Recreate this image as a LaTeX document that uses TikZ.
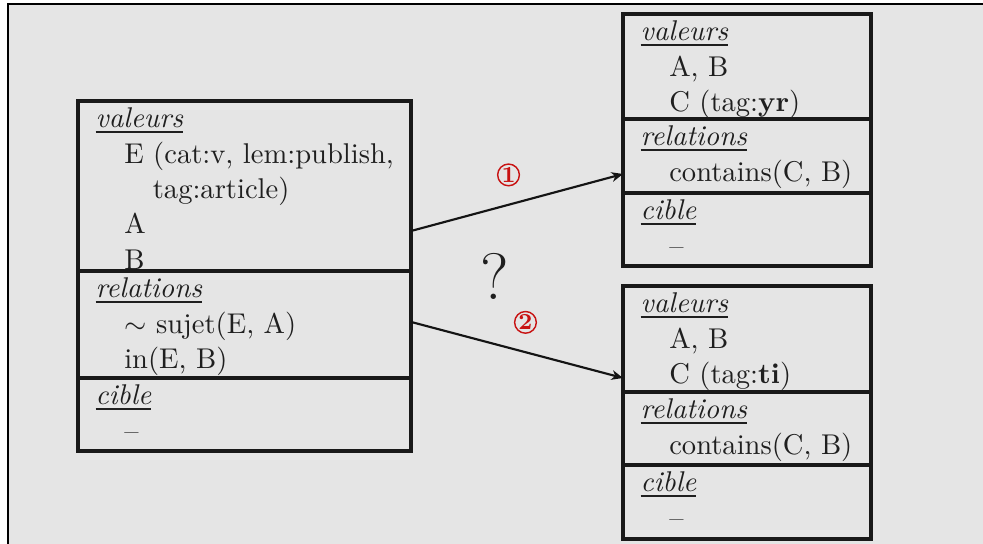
\documentclass[tikz,border=0pt]{standalone}
\usetikzlibrary{positioning,arrows.meta}
\definecolor{panelgray}{RGB}{229,229,229}
\definecolor{markred}{RGB}{200,18,18}
\newcommand{\rubrique}[1]{\underline{\textit{#1}}}

\begin{document}
\begin{tikzpicture}[x=0.35pt,y=-0.35pt,
    sec/.style={draw=black!90,line width=1.1pt,outer sep=0pt,inner sep=0pt,minimum width=#1},
    txt/.style={anchor=north west,inner xsep=6pt,inner ysep=2.2pt,align=left,
      text=black!88,font=\fontsize{10}{12.4}\selectfont},
    link/.style={draw=black!92,line width=0.75pt,-{Stealth[length=4pt,width=3.4pt,inset=1.2pt]}},
    num/.style={circle,draw=markred,text=markred,line width=0.5pt,inner sep=0pt,
      minimum size=7.6pt,font=\footnotesize\bfseries}]
  \useasboundingbox (0,0) rectangle (983,544);
  \fill[white] (0,0) rectangle (983,544);
  \fill[panelgray] (8,4) rectangle (983,544);
  \draw[line width=0.5pt] (8,544) -- (8,4) -- (983,4);
  % left structure
  \node[sec=116.55pt,minimum height=59.5pt,anchor=north west] (lval) at (78,101) {};
  \node[sec=116.55pt,minimum height=37.45pt,below=0pt of lval] (lrel) {};
  \node[sec=116.55pt,minimum height=25.55pt,below=0pt of lrel] (lcib) {};
  \node[txt] (lvaltxt) at (lval.north west) {\rubrique{valeurs}\\
    \quad E (cat:v, lem:publish,\\
    \qquad tag:article)\\
    \quad A\\
    \quad B};
  \node[txt] (lreltxt) at (lrel.north west) {\rubrique{relations}\\
    \quad $\sim$ sujet(E, A)\\
    \quad in(E, B)};
  \node[txt] (lcibtxt) at (lcib.north west) {\rubrique{cible}\\ \quad --};
  % right structures
  \node[sec=86.8pt,minimum height=36.75pt,anchor=north west] (tval) at (623,14) {};
  \node[sec=86.8pt,minimum height=25.9pt,below=0pt of tval] (trel) {};
  \node[sec=86.8pt,minimum height=25.55pt,below=0pt of trel] (tcib) {};
  \node[txt] (tvaltxt) at (tval.north west) {\rubrique{valeurs}\\
    \quad A, B\\
    \quad C (tag:\textbf{yr})};
  \node[txt] (treltxt) at (trel.north west) {\rubrique{relations}\\ \quad contains(C, B)};
  \node[txt] (tcibtxt) at (tcib.north west) {\rubrique{cible}\\ \quad --};
  \node[sec=86.8pt,minimum height=37.1pt,anchor=north west] (bval) at (623,286) {};
  \node[sec=86.8pt,minimum height=25.55pt,below=0pt of bval] (brel) {};
  \node[sec=86.8pt,minimum height=25.9pt,below=0pt of brel] (bcib) {};
  \node[txt] (bvaltxt) at (bval.north west) {\rubrique{valeurs}\\
    \quad A, B\\
    \quad C (tag:\textbf{ti})};
  \node[txt] (breltxt) at (brel.north west) {\rubrique{relations}\\ \quad contains(C, B)};
  \node[txt] (bcibtxt) at (bcib.north west) {\rubrique{cible}\\ \quad --};
  % the two readings
  \draw[link] ([yshift=-15.75pt]lval.east) -- node[num,pos=0.46,above=6.4pt] (un) {1}
    ([yshift=-6.3pt]trel.west);
  \draw[link] ([yshift=0.9pt]lrel.east) -- node[num,pos=0.54,above=6.4pt] (deux) {2}
    ([yshift=-13.65pt]bval.west);
  \node[anchor=base,text=black!88,font=\fontsize{23}{28}\selectfont] (doute) at (495,300) {?};
\end{tikzpicture}
\end{document}
